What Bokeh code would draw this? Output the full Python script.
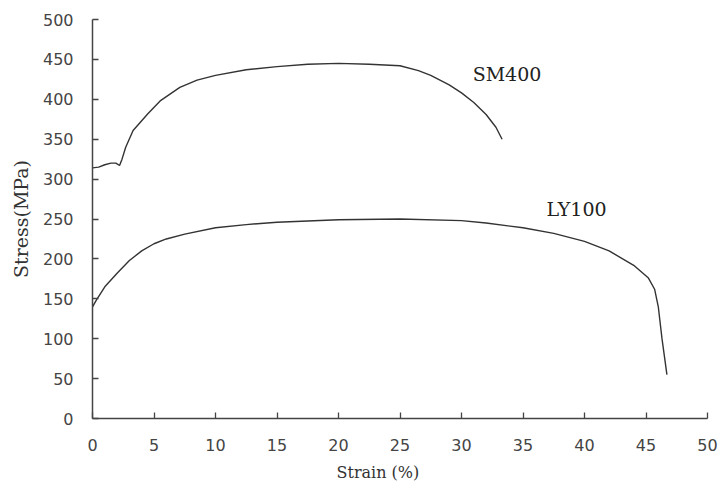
from bokeh.plotting import figure
from bokeh.models import Range1d, FixedTicker, Title
from bokeh.core.properties import value
from bokeh.embed import file_html
from bokeh.resources import INLINE

# SM400 curve
sm400_strain = [0, 0.5, 1.0, 1.5, 1.9, 2.2, 2.4, 2.7, 3.3, 4.5, 5.5, 7.1, 8.5, 10, 12.5, 15,
                17.5, 20, 22.5, 25, 26.5, 27.5, 29, 30, 31, 32, 32.8, 33.3]
sm400_stress = [314, 315, 318, 320, 320, 317, 325, 340, 361, 382, 398, 415, 424, 430, 437, 441,
                444, 445, 444, 442, 436, 430, 418, 408, 396, 381, 365, 350]

# LY100 curve
ly100_strain = [0, 0.3, 1, 2, 3, 4, 5, 6, 7.5, 10, 12.5, 15, 20, 25, 30, 32, 35, 37.5, 40,
                42, 44, 45.2, 45.7, 46.0, 46.3, 46.7]
ly100_stress = [140, 148, 165, 182, 198, 210, 219, 225, 231, 239, 243, 246, 249, 250, 248, 245,
                239, 232, 222, 210, 192, 176, 162, 140, 100, 55]

# annotations
labels = ["SM400", "LY100"]
label_x = [33.7, 39.35]
label_y = [432, 262]

x_ticks = [0, 5, 10, 15, 20, 25, 30, 35, 40, 45, 50]
y_ticks = [0, 50, 100, 150, 200, 250, 300, 350, 400, 450, 500]

x_title = "Strain (%)"
y_title = "Stress(MPa)"

p = figure(frame_width=615, frame_height=399, min_border_left=92, min_border_right=12,
           min_border_top=19, min_border_bottom=70,
           output_backend="svg", toolbar_location=None,
           x_range=Range1d(0, 50), y_range=Range1d(0, 500))

p.outline_line_color = None
p.xgrid.visible = False
p.ygrid.visible = False
p.background_fill_color = "white"
p.border_fill_color = "white"

line_col = "#333333"
p.line(sm400_strain, sm400_stress, line_color=line_col, line_width=1.4)
p.line(ly100_strain, ly100_stress, line_color=line_col, line_width=1.4)

p.text(x=label_x, y=label_y, text=labels, text_align="center", text_baseline="middle",
       text_font=value("DejaVu Serif"), text_font_size="19px", text_color="#222222")

for ax, ticks in ((p.xaxis[0], x_ticks), (p.yaxis[0], y_ticks)):
    ax.ticker = FixedTicker(ticks=ticks)
    ax.minor_tick_line_color = None
    ax.major_tick_in = 6
    ax.major_tick_out = 0
    ax.axis_line_color = "#444444"
    ax.axis_line_width = 1.5
    ax.major_tick_line_color = "#444444"
    ax.major_tick_line_width = 1.3
    ax.major_label_text_font = "DejaVu Sans"
    ax.major_label_text_font_size = "16px"
    ax.major_label_text_color = "#444444"

p.xaxis.major_label_standoff = 20
p.yaxis.major_label_standoff = 19

p.yaxis.axis_label = y_title
p.yaxis.axis_label_text_font = "DejaVu Serif"
p.yaxis.axis_label_text_font_size = "19px"
p.yaxis.axis_label_text_font_style = "normal"
p.yaxis.axis_label_text_color = "#333333"
p.yaxis.axis_label_standoff = 8

xt = Title(text=x_title, align="left", offset=244, standoff=15,
           text_font="DejaVu Serif", text_font_size="16px", text_font_style="normal",
           text_color="#333333")
p.add_layout(xt, "below")

open("out.html", "w").write(file_html(p, INLINE))
